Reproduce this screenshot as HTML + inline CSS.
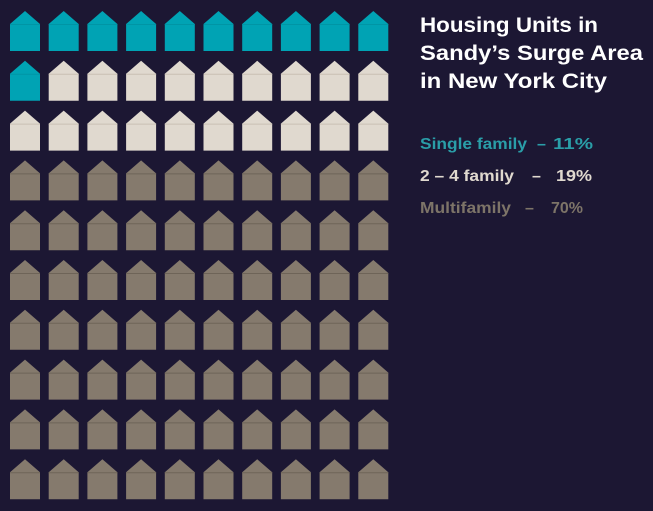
<!DOCTYPE html>
<html><head><meta charset="utf-8"><style>
html,body{margin:0;padding:0;background:#1c1733;}
svg{display:block}
text{font-family:"Liberation Sans",sans-serif;font-weight:bold;white-space:pre}
</style></head><body>
<svg width="653" height="511" viewBox="0 0 653 511" xmlns="http://www.w3.org/2000/svg" xml:space="preserve">
<rect width="653" height="511" fill="#1c1733"/>
<g id="grid"></g>
<script>
var g=document.getElementById('grid'),ns='http://www.w3.org/2000/svg',n=0;
for(var r=0;r<10;r++)for(var c=0;c<10;c++){n++;
var col=n<=11?'#00a3b4':(n<=30?'#e0d9cf':'#857a6d');
var line=n<=11?'#0095a5':(n<=30?'#c9c0b4':'#6e6458');
var x=10+c*38.7,y=11+r*49.8;
var p=document.createElementNS(ns,'path');
p.setAttribute('d','M'+x+' '+(y+13)+' L'+(x+15)+' '+y+' L'+(x+30)+' '+(y+13)+' L'+(x+30)+' '+(y+40)+' L'+x+' '+(y+40)+' Z');
p.setAttribute('fill',col);g.appendChild(p);
var l=document.createElementNS(ns,'line');
l.setAttribute('x1',x);l.setAttribute('x2',x+30);l.setAttribute('y1',y+13.5);l.setAttribute('y2',y+13.5);
l.setAttribute('stroke',line);l.setAttribute('stroke-width','1');g.appendChild(l);}
</script>
<text x="420" y="32" font-size="21" fill="#ffffff" textLength="178" lengthAdjust="spacingAndGlyphs">Housing Units in</text>
<text x="420" y="60" font-size="21" fill="#ffffff" textLength="223" lengthAdjust="spacingAndGlyphs">Sandy’s Surge Area</text>
<text x="420" y="88" font-size="21" fill="#ffffff" textLength="187" lengthAdjust="spacingAndGlyphs">in New York City</text>
<text x="420" y="149" font-size="16" fill="#2a9ea8" textLength="107" lengthAdjust="spacingAndGlyphs">Single family</text>
<text x="537" y="149" font-size="16" fill="#2a9ea8">–</text>
<text x="553" y="149" font-size="16" fill="#2a9ea8" textLength="40" lengthAdjust="spacingAndGlyphs">11%</text>
<text x="420" y="181" font-size="16" fill="#e0d9cf" textLength="94" lengthAdjust="spacingAndGlyphs">2 – 4 family</text>
<text x="532" y="181" font-size="16" fill="#e0d9cf">–</text>
<text x="556" y="181" font-size="16" fill="#e0d9cf" textLength="36" lengthAdjust="spacingAndGlyphs">19%</text>
<text x="420" y="213" font-size="16" fill="#7d7468" textLength="91" lengthAdjust="spacingAndGlyphs">Multifamily</text>
<text x="525" y="213" font-size="16" fill="#7d7468">–</text>
<text x="551" y="213" font-size="16" fill="#7d7468" textLength="32" lengthAdjust="spacingAndGlyphs">70%</text>
</svg>
</body></html>
